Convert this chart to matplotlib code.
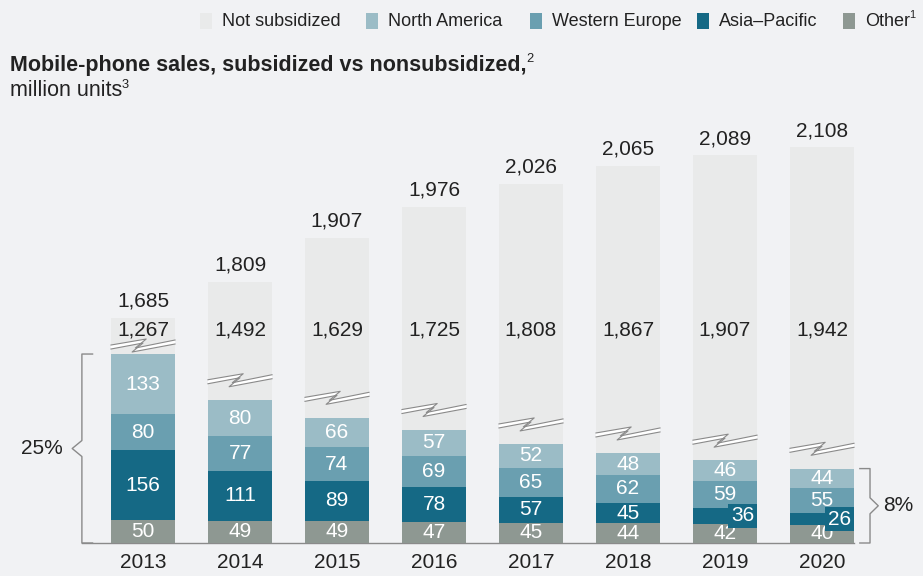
import numpy as np
import matplotlib.pyplot as plt
from matplotlib.patches import Rectangle, Polygon

plt.rcParams['font.family'] = ['Liberation Sans', 'DejaVu Sans']

# data (million units)
years = ['2013', '2014', '2015', '2016', '2017', '2018', '2019', '2020']
totals = [1685, 1809, 1907, 1976, 2026, 2065, 2089, 2108]
not_subsidized = [1267, 1492, 1629, 1725, 1808, 1867, 1907, 1942]
north_america = [133, 80, 66, 57, 52, 48, 46, 44]
western_europe = [80, 77, 74, 69, 65, 62, 59, 55]
asia_pacific = [156, 111, 89, 78, 57, 45, 36, 26]
other = [50, 49, 49, 47, 45, 44, 42, 40]
subsidized_share = ['25%', '8%']

legend_labels = ['Not subsidized', 'North America', 'Western Europe', 'Asia\u2013Pacific', 'Other']

BG = '#f1f2f4'
C_NS = '#e9eaea'
C_NA = '#9bbcc6'
C_WE = '#6a9fb0'
C_AP = '#156985'
C_OT = '#8e9892'
TXT = '#222222'
GRAY = '#8a8a8a'

# axis break: hidden part of the not-subsidized bars
BREAK = 1230
MIN_STUB = 80

W, H = 923, 576
fig = plt.figure(figsize=(W / 100, H / 100), dpi=100, facecolor=BG)
ax = fig.add_axes([0, 0, 1, 1], facecolor=BG)
ax.axis('off')

PX_Y = 1 / 0.451   # data units per pixel (vertical)
PX_X = 1 / 97.0    # data units per pixel (horizontal)
ax.set_xlim(-143 * PX_X, (W - 143) * PX_X)
ax.set_ylim(-33 * PX_Y, (H - 33) * PX_Y)

x = np.arange(len(years))
bw = 0.66
FS = 15

ot = np.array(other)
ap = np.array(asia_pacific)
we = np.array(western_europe)
na = np.array(north_america)
sub_top = ot + ap + we + na
stub = np.maximum(np.array(not_subsidized) - BREAK, MIN_STUB)

ax.bar(x, ot, bw, color=C_OT, zorder=2)
ax.bar(x, ap, bw, bottom=ot, color=C_AP, zorder=2)
ax.bar(x, we, bw, bottom=ot + ap, color=C_WE, zorder=2)
ax.bar(x, na, bw, bottom=ot + ap + we, color=C_NA, zorder=2)
ax.bar(x, stub, bw, bottom=sub_top, color=C_NS, zorder=2)

# segment labels
for i in range(len(years)):
    bottoms = [0, ot[i], ot[i] + ap[i], ot[i] + ap[i] + we[i]]
    vals = [ot[i], ap[i], we[i], na[i]]
    for j, (b, v) in enumerate(zip(bottoms, vals)):
        if j == 1 and v < 40:
            ax.text(x[i] + 0.18, b + v / 2, str(v), ha='center', va='center',
                    color='white', fontsize=FS, zorder=4,
                    bbox=dict(boxstyle='square,pad=0.12', fc=C_AP, ec='none'))
        else:
            ax.text(x[i], b + v / 2, str(v), ha='center', va='center',
                    color='white', fontsize=FS, zorder=4)
    # not subsidized value and total
    ax.text(x[i], 472, f'{not_subsidized[i]:,}', ha='center', va='center',
            color=TXT, fontsize=FS, zorder=4)
    ax.text(x[i], sub_top[i] + stub[i] + 7 * PX_Y, f'{totals[i]:,}', ha='center',
            va='bottom', color=TXT, fontsize=FS, zorder=4)

    # zigzag break mark
    yb = sub_top[i] + min(45, 0.25 * stub[i])
    x0 = x[i] - bw / 2
    top = [(0, 0), (0.55, 6), (0.38, -3), (1, 5)]
    bot = [(0, -4), (0.50, 2), (0.33, -7), (1, 1)]
    tp = [(x0 + f * bw, yb + d * PX_Y) for f, d in top]
    bp = [(x0 + f * bw, yb + d * PX_Y) for f, d in bot]
    ax.add_patch(Polygon(tp + bp[::-1], closed=True, fc='white', ec='none', zorder=3))
    ax.plot(*zip(*tp), color=GRAY, lw=0.8, zorder=3)
    ax.plot(*zip(*bp), color=GRAY, lw=0.8, zorder=3)

# baseline
ax.plot([-0.63, x[-1] + bw / 2], [0, 0], color=GRAY, lw=1, zorder=1)

# brackets
def bracket(xv, xt, xtip, y0, y1, label, side):
    ym = (y0 + y1) / 2
    n = 8 * PX_Y
    ax.plot([xt, xv, xv, xtip, xv, xv, xt], [y1, y1, ym + n, ym, ym - n, y0, y0],
            color=GRAY, lw=1, zorder=1)
    if side == 'left':
        ax.text(xtip - 9 * PX_X, ym, label, ha='right', va='center', color=TXT, fontsize=FS)
    else:
        ax.text(xtip + 5 * PX_X, ym, label, ha='left', va='center', color=TXT, fontsize=FS)

bracket(-0.63, -0.52, -0.73, 0, sub_top[0], subsidized_share[0], 'left')
bracket(7.495, 7.39, 7.58, 0, sub_top[-1], subsidized_share[1], 'right')

# x tick labels
for i, yr in enumerate(years):
    ax.text(x[i], -20 * PX_Y, yr, ha='center', va='center', color=TXT, fontsize=FS)

# title
fig.canvas.draw()
r = fig.canvas.get_renderer()

def fx(px):
    return px / W

def fy(py):
    return 1 - py / H

def with_sup(xp, yp, s, sup, fs, weight='normal'):
    t = fig.text(fx(xp), fy(yp), s, ha='left', va='center', fontsize=fs,
                 weight=weight, color=TXT)
    bb = t.get_window_extent(renderer=r)
    fig.text(bb.x1 / W - 0.5 / W, fy(yp - 6), sup, ha='left', va='center',
             fontsize=fs * 0.6, color=TXT)

with_sup(10, 65, 'Mobile-phone sales, subsidized vs nonsubsidized,', '2', 15.5, 'bold')
with_sup(10, 91, 'million units', '3', 15.5)

# legend
leg_x = [200, 366, 530, 697, 843]
leg_c = [C_NS, C_NA, C_WE, C_AP, C_OT]
for lx, lc, lab in zip(leg_x, leg_c, legend_labels):
    fig.patches.append(Rectangle((fx(lx), fy(29)), 12 / W, 16 / H, fc=lc, ec='none',
                                 transform=fig.transFigure, figure=fig))
    if lab == 'Other':
        with_sup(lx + 22, 21, lab, '1', 13)
    else:
        fig.text(fx(lx + 22), fy(21), lab, ha='left', va='center', fontsize=13, color=TXT)

fig.savefig('out.png', dpi=100, facecolor=BG)
